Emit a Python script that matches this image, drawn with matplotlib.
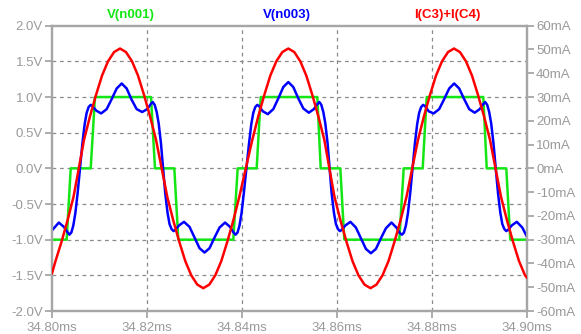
import numpy as np
import matplotlib
matplotlib.use("Agg")
import matplotlib.pyplot as plt

plt.rcParams['font.family'] = ['Liberation Sans', 'DejaVu Sans']

T0_MS = 34.80  # start of window (ms); times below are microseconds after it

# V(n001): three-level staircase, breakpoints (us, V)
green_t = [0.00, 3.09, 3.94, 8.15, 9.05, 20.84, 21.68, 25.75, 26.59, 38.17, 39.09,
           43.09, 43.94, 55.85, 56.57, 60.70, 61.54, 73.12, 74.04, 78.04, 78.88,
           90.80, 91.52, 95.64, 96.48, 100.00]
green_v = [-1, -1, 0, 0, 1, 1, 0, 0, -1, -1, 0,
           0, 1, 1, 0, 0, -1, -1, 0, 0, 1,
           1, 0, 0, -1, -1]

# V(n003): filtered output with ripple (us, V)
blue_t = [0.00, 1.44, 2.49, 3.23, 3.65, 4.07, 4.49, 4.91, 5.39, 5.90,
          6.40, 6.88, 7.30, 7.72, 8.14, 8.56, 9.30, 10.35, 11.51, 12.56, 13.62, 14.67,
          15.72, 16.78, 17.83, 18.99, 20.04, 20.78, 21.20, 21.62, 22.04, 22.46, 22.94, 23.39,
          23.84, 24.32, 24.74, 25.16, 25.58, 26.00, 26.74, 27.79, 28.95, 30.00, 31.06, 32.11,
          33.16, 34.22, 35.27, 36.43, 37.48, 38.22, 38.64, 39.06, 39.48, 39.90, 40.38, 40.93,
          41.48, 41.96, 42.38, 42.80, 43.22, 43.64, 44.38, 45.43, 46.59, 47.64, 48.70, 49.75,
          50.80, 51.86, 52.91, 54.07, 55.12, 55.86, 56.28, 56.70, 57.12, 57.54, 58.02, 58.45,
          58.87, 59.35, 59.77, 60.19, 60.61, 61.03, 61.77, 62.82, 63.98, 65.03, 66.09, 67.14,
          68.19, 69.25, 70.30, 71.46, 72.51, 73.25, 73.67, 74.09, 74.51, 74.93, 75.41, 75.91,
          76.40, 76.88, 77.30, 77.72, 78.14, 78.56, 79.30, 80.35, 81.51, 82.56, 83.62, 84.67,
          85.72, 86.78, 87.83, 88.99, 90.04, 90.78, 91.20, 91.62, 92.04, 92.46, 92.94, 93.42,
          93.90, 94.38, 94.80, 95.22, 95.64, 96.06, 96.80, 97.85, 99.01, 100.00]
blue_v = [-0.87, -0.76, -0.82, -0.89, -0.93, -0.90, -0.80, -0.63, -0.35, 0.00,
          0.35, 0.62, 0.78, 0.86, 0.89, 0.87, 0.81, 0.77, 0.83, 0.97, 1.12, 1.19,
          1.12, 0.96, 0.83, 0.79, 0.83, 0.90, 0.93, 0.89, 0.79, 0.63, 0.35, 0.00,
          -0.35, -0.62, -0.78, -0.85, -0.88, -0.86, -0.80, -0.75, -0.82, -0.97, -1.12, -1.18,
          -1.12, -0.97, -0.83, -0.76, -0.82, -0.90, -0.93, -0.90, -0.80, -0.63, -0.35, 0.00,
          0.35, 0.62, 0.78, 0.86, 0.89, 0.87, 0.80, 0.76, 0.83, 0.98, 1.14, 1.21,
          1.14, 0.98, 0.84, 0.78, 0.83, 0.90, 0.93, 0.89, 0.79, 0.63, 0.35, 0.00,
          -0.35, -0.62, -0.78, -0.85, -0.88, -0.86, -0.80, -0.75, -0.83, -0.98, -1.13, -1.19,
          -1.13, -0.98, -0.84, -0.76, -0.83, -0.91, -0.93, -0.90, -0.80, -0.63, -0.35, 0.00,
          0.35, 0.62, 0.78, 0.86, 0.89, 0.87, 0.80, 0.77, 0.83, 0.97, 1.12, 1.19,
          1.12, 0.97, 0.83, 0.78, 0.83, 0.90, 0.93, 0.89, 0.79, 0.63, 0.35, 0.00,
          -0.35, -0.62, -0.78, -0.85, -0.88, -0.86, -0.80, -0.75, -0.83, -0.96]

# I(C3)+I(C4): capacitor current (us, mA), right axis
red_t = [0.00, 0.74, 2.00, 3.27, 4.53, 5.64,
         6.74, 8.00, 9.27, 10.53, 11.79, 13.06, 14.32, 15.58, 16.85, 18.11, 19.37, 20.64, 21.90, 23.09,
         24.27, 25.53, 26.80, 28.06, 29.32, 30.59, 31.85, 33.11, 34.38, 35.64, 36.90, 38.17, 39.43, 40.80,
         42.17, 43.43, 44.70, 45.96, 47.22, 48.49, 49.75, 51.01, 52.28, 53.54, 54.80, 56.07, 57.33, 58.40,
         59.47, 60.73, 62.00, 63.26, 64.52, 65.79, 67.05, 68.31, 69.58, 70.84, 72.10, 73.37, 74.63, 75.84,
         77.05, 78.31, 79.58, 80.84, 82.10, 83.37, 84.63, 85.89, 87.16, 88.42, 89.68, 90.95, 92.21, 93.37,
         94.53, 95.79, 97.06, 98.32, 99.58, 100.00]
red_ma = [-44.1, -39.0, -30.9, -21.9, -12.0, 0.0,
          12.0, 21.9, 30.9, 39.0, 45.0, 48.9, 50.4, 48.9, 45.0, 39.0, 30.9, 21.9, 12.0, 0.0,
          -12.0, -21.9, -30.9, -39.0, -45.0, -48.9, -50.4, -48.9, -45.0, -39.0, -30.9, -21.9, -12.0, 0.0,
          12.0, 21.9, 30.9, 39.0, 45.0, 48.9, 50.4, 48.9, 45.0, 39.0, 30.9, 21.9, 12.0, 0.0,
          -12.0, -21.9, -30.9, -39.0, -45.0, -48.9, -50.4, -48.9, -45.0, -39.0, -30.9, -21.9, -12.0, 0.0,
          12.0, 21.9, 30.9, 39.0, 45.0, 48.9, 50.4, 48.9, 45.0, 39.0, 30.9, 21.9, 12.0, 0.0,
          -12.0, -21.9, -30.9, -39.0, -45.0, -46.0]

x_ticks = [34.80, 34.82, 34.84, 34.86, 34.88, 34.90]
x_labels = ["34.80ms", "34.82ms", "34.84ms", "34.86ms", "34.88ms", "34.90ms"]
yl_ticks = [-2.0, -1.5, -1.0, -0.5, 0.0, 0.5, 1.0, 1.5, 2.0]
yl_labels = ["-2.0V", "-1.5V", "-1.0V", "-0.5V", "0.0V", "0.5V", "1.0V", "1.5V", "2.0V"]
yr_ticks = [-60, -50, -40, -30, -20, -10, 0, 10, 20, 30, 40, 50, 60]
yr_labels = ["-60mA", "-50mA", "-40mA", "-30mA", "-20mA", "-10mA", "0mA",
             "10mA", "20mA", "30mA", "40mA", "50mA", "60mA"]
trace_names = ["V(n001)", "V(n003)", "I(C3)+I(C4)"]

GREEN = "#14e614"
BLUE = "#0000ff"
RED = "#ff0000"
AXC = "#a6a6a6"
LBL = "#9a9a9a"

W, H = 581, 334
fig = plt.figure(figsize=(W / 100, H / 100), dpi=100)
fig.patch.set_facecolor("white")
ax = fig.add_axes([52 / W, 1 - 311 / H, (527 - 52) / W, (311 - 25.7) / H])
ax2 = ax.twinx()

to_ms = lambda us: T0_MS + np.asarray(us) / 1000.0

ax.plot(to_ms(green_t), green_v, color=GREEN, lw=1.8, zorder=3)
ax.plot(to_ms(blue_t), blue_v, color=BLUE, lw=1.8, zorder=4)
ax2.plot(to_ms(red_t), red_ma, color=RED, lw=1.8, zorder=5)

ax.set_xlim(34.80, 34.90)
ax.set_ylim(-2.0, 2.0)
ax2.set_ylim(-60, 60)

ax.set_xticks(x_ticks)
ax.set_xticklabels(x_labels)
ax.set_yticks(yl_ticks)
ax.set_yticklabels(yl_labels)
ax2.set_yticks(yr_ticks)
ax2.set_yticklabels(yr_labels)

# dashed grid at interior ticks
for xv in x_ticks[1:-1]:
    ax.axvline(xv, color="#8a8a8a", lw=0.9, ls=(0, (3, 3)), zorder=1)
for yv in yl_ticks[1:-1]:
    ax.axhline(yv, color="#8a8a8a", lw=0.9, ls=(0, (3, 3)), zorder=1)

for a in (ax, ax2):
    for s in a.spines.values():
        s.set_color(AXC)
        s.set_linewidth(1.6)
    a.tick_params(direction="out", length=5, width=1.3, color=AXC,
                  labelcolor=LBL, labelsize=9.5, pad=1.5)
ax.tick_params(axis="x", pad=3)

fig.text(131 / W, 1 - 15 / H, trace_names[0], color=GREEN, fontsize=9.5,
         fontweight="bold", ha="center", va="center")
fig.text(287 / W, 1 - 15 / H, trace_names[1], color=BLUE, fontsize=9.5,
         fontweight="bold", ha="center", va="center")
fig.text(447 / W, 1 - 15 / H, trace_names[2], color=RED, fontsize=9.5,
         fontweight="bold", ha="center", va="center")

fig.savefig("out.png", dpi=100, facecolor="white")
